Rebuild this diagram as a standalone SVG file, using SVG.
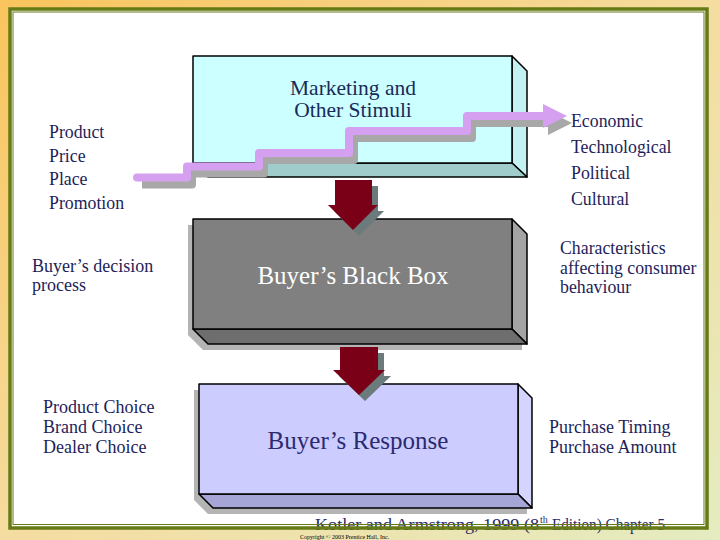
<svg xmlns="http://www.w3.org/2000/svg" width="720" height="540" viewBox="0 0 720 540">
<style>
.t{font-family:"Liberation Serif","Times New Roman",serif;fill:#1e1e5a}
.edge{stroke:#000;stroke-width:1.5;stroke-linejoin:round}
.arr{fill:#7a0018}
.arrs{fill:#6b7b7b}
.shadow{fill:#b4b4b4}
.foot{font-family:"Liberation Serif","Times New Roman",serif;fill:#2a2a6a}
</style>
<defs>
<linearGradient id="bg" x1="0" y1="0" x2="1" y2="1">
<stop offset="0" stop-color="#f9c45c"/>
<stop offset="0.5" stop-color="#f5dca0"/>
<stop offset="1" stop-color="#e4ecc0"/>
</linearGradient>
</defs>
<rect x="0" y="0" width="720" height="540" fill="url(#bg)"/>
<rect x="10" y="9" width="697" height="519" fill="#ffffff"/>

<g id="left-labels">
<text class="t" font-size="17.8" x="49" y="138">Product</text>
<text class="t" font-size="17.8" x="49" y="162">Price</text>
<text class="t" font-size="17.8" x="49" y="185">Place</text>
<text class="t" font-size="17.8" x="49" y="209">Promotion</text>
<text class="t" font-size="18" x="32" y="272">Buyer’s decision</text>
<text class="t" font-size="18" x="32" y="291">process</text>
<text class="t" font-size="18" x="43" y="413">Product Choice</text>
<text class="t" font-size="18" x="43" y="433">Brand Choice</text>
<text class="t" font-size="18" x="43" y="453">Dealer Choice</text>
</g>

<g id="right-labels">
<text class="t" font-size="17.8" x="571" y="127">Economic</text>
<text class="t" font-size="17.8" x="571" y="153">Technological</text>
<text class="t" font-size="17.8" x="571" y="179">Political</text>
<text class="t" font-size="17.8" x="571" y="205">Cultural</text>
<text class="t" font-size="17.8" x="560" y="254">Characteristics</text>
<text class="t" font-size="17.8" x="560" y="274">affecting consumer</text>
<text class="t" font-size="17.8" x="560" y="293">behaviour</text>
<text class="t" font-size="18" x="549" y="433">Purchase Timing</text>
<text class="t" font-size="18" x="549" y="453">Purchase Amount</text>
</g>

<g id="stimuli">
<polygon points="512,56 527,71 527,177 512,163" fill="#c4f2f2" class="edge"/>
<polygon points="193,163 512,163 527,177 208,177" fill="#a0cccc" class="edge"/>
<rect x="193" y="56" width="319" height="107" fill="#ccffff" class="edge"/>
<text class="t" font-size="21.5" x="353" y="95" text-anchor="middle" style="fill:#1a2a5a">Marketing and</text>
<text class="t" font-size="21.5" x="353" y="117" text-anchor="middle" style="fill:#1a2a5a">Other Stimuli</text>
</g>

<g id="black-box">
<polygon class="shadow" points="188,225 507,225 522,240 522,350 203,350 188,335"/>
<polygon points="512,219 527,234 527,344 512,329" fill="#a4a4a4" class="edge"/>
<polygon points="193,329 512,329 527,344 208,344" fill="#6e6e6e" class="edge"/>
<rect x="193" y="219" width="319" height="110" fill="#808080" class="edge"/>
<text class="t" font-size="25" x="353" y="284" text-anchor="middle" style="fill:#ffffff">Buyer’s Black Box</text>
</g>

<g id="response">
<polygon class="shadow" points="194,390 513,390 527,404 527,514 208,514 194,500"/>
<polygon points="518,384 532,398 532,508 518,494" fill="#d4d4ff" class="edge"/>
<polygon points="199,494 518,494 532,508 213,508" fill="#a6a6d6" class="edge"/>
<rect x="199" y="384" width="319" height="110" fill="#ccccff" class="edge"/>
<text class="t" font-size="25" x="358" y="449" text-anchor="middle" style="fill:#2a2a70">Buyer’s Response</text>
</g>

<g id="connectors">
<g id="stimuli-band">
<path d="M142,184.5 H192 V173.5 H264 V160 H354 V138 H472 V123 H550" fill="none" stroke="#a8a8a8" stroke-width="8" stroke-linejoin="round"/>
<polygon points="548,111 572,123 548,135" fill="#a8a8a8"/>
<path d="M137,177.5 H187 V166.5 H259 V153 H349 V131 H467 V116 H545" fill="none" stroke="#d6a0f0" stroke-width="8" stroke-linejoin="round" stroke-linecap="round"/>
<polygon points="543,104 567,116 543,128" fill="#d6a0f0"/>
</g>
<g id="arrow-1">
<polygon class="arrs" points="341,186 378,186 378,211 384,211 359,236 334,211 341,211"/>
<polygon class="arr" points="335,180 372,180 372,205 378,205 353,230 328,205 335,205"/>
</g>
<g id="arrow-2">
<polygon class="arrs" points="346,353 384,353 384,376 391,376 365,401 339,376 346,376"/>
<polygon class="arr" points="340,347 378,347 378,370 385,370 359,395 333,370 340,370"/>
</g>
</g>

<g id="footer">
<text class="foot" font-size="17.5" x="315" y="530" textLength="224" lengthAdjust="spacingAndGlyphs">Kotler and Armstrong, 1999 (8</text>
<text class="foot" font-size="10" x="540" y="523">th</text>
<text class="foot" font-size="17.5" x="552" y="530" textLength="113" lengthAdjust="spacingAndGlyphs">Edition) Chapter 5</text>
<text font-family="Liberation Serif, serif" font-size="6" x="300" y="539" fill="#000">Copyright © 2003 Prentice Hall, Inc.</text>
</g>

<g id="frame" fill="none" stroke="#667a16">
<rect x="10" y="9" width="697" height="519" stroke-width="3.5"/>
<rect x="13" y="12" width="691" height="512.5" stroke-width="1"/>
</g>
</svg>
